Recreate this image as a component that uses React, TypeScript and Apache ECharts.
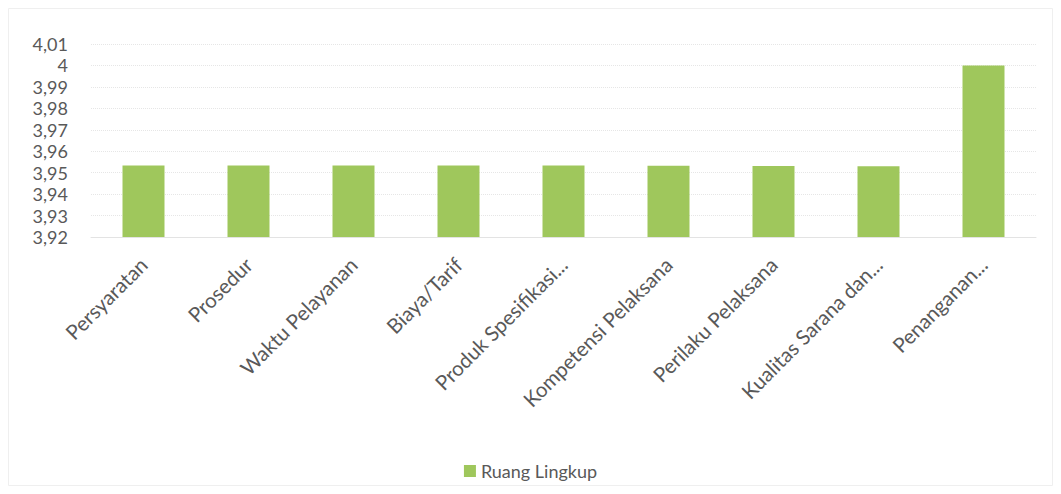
import React, { useEffect, useRef } from "react";
import * as echarts from "echarts";

const categories = [
  "Persyaratan",
  "Prosedur",
  "Waktu Pelayanan",
  "Biaya/Tarif",
  "Produk Spesifikasi...",
  "Kompetensi Pelaksana",
  "Perilaku Pelaksana",
  "Kualitas Sarana dan...",
  "Penanganan...",
];
const seriesName = "Ruang Lingkup";
const values = [3.9534, 3.9534, 3.9533, 3.9533, 3.9533, 3.9532, 3.9531, 3.953, 4.0];
const yMin = 3.92;
const yMax = 4.01;
const yStep = 0.01;

export default function App() {
  const ref = useRef<HTMLDivElement>(null);
  useEffect(() => {
    if (!ref.current) return;
    const chart = echarts.init(ref.current, undefined, { renderer: "svg" });
    const font = "Lato, 'Open Sans', sans-serif";
    chart.setOption({
      animation: false,
      backgroundColor: "#ffffff",
      textStyle: { fontFamily: font },
      grid: { left: 83, right: 17, top: 36, bottom: 249, containLabel: false },
      legend: {
        top: 449,
        left: "center",
        itemWidth: 12,
        itemHeight: 12,
        itemGap: 10,
        icon: "rect",
        textStyle: { color: "#595959", fontSize: 18, fontFamily: font },
        data: [seriesName],
      },
      xAxis: {
        type: "category",
        data: categories,
        axisLine: { show: true, lineStyle: { color: "#e3e3e3" } },
        axisTick: { show: false },
        axisLabel: {
          rotate: 45,
          interval: 0,
          color: "#595959",
          fontSize: 20.5,
          margin: 24,
          fontFamily: font,
        },
      },
      yAxis: {
        type: "value",
        min: yMin,
        max: yMax,
        interval: yStep,
        axisLine: { show: false },
        axisTick: { show: false },
        splitLine: { lineStyle: { color: "#e6e6e6", type: "dotted" } },
        axisLabel: {
          color: "#595959",
          fontSize: 18,
          lineHeight: 18,
          margin: 23,
          fontFamily: font,
          formatter: (v: number) => String(+v.toFixed(2)).replace(".", ","),
        },
      },
      series: [
        {
          name: seriesName,
          type: "bar",
          data: values,
          barWidth: "40%",
          itemStyle: { color: "#9fc75c" },
        },
      ],
      graphic: [
        {
          type: "rect",
          shape: { x: 0.5, y: 0.5, width: 1044, height: 477 },
          style: { fill: "none", stroke: "#efefef", lineWidth: 1 },
          silent: true,
        },
      ],
    });
    return () => chart.dispose();
  }, []);
  return <div ref={ref} style={{ width: 1045, height: 478 }} />;
}
